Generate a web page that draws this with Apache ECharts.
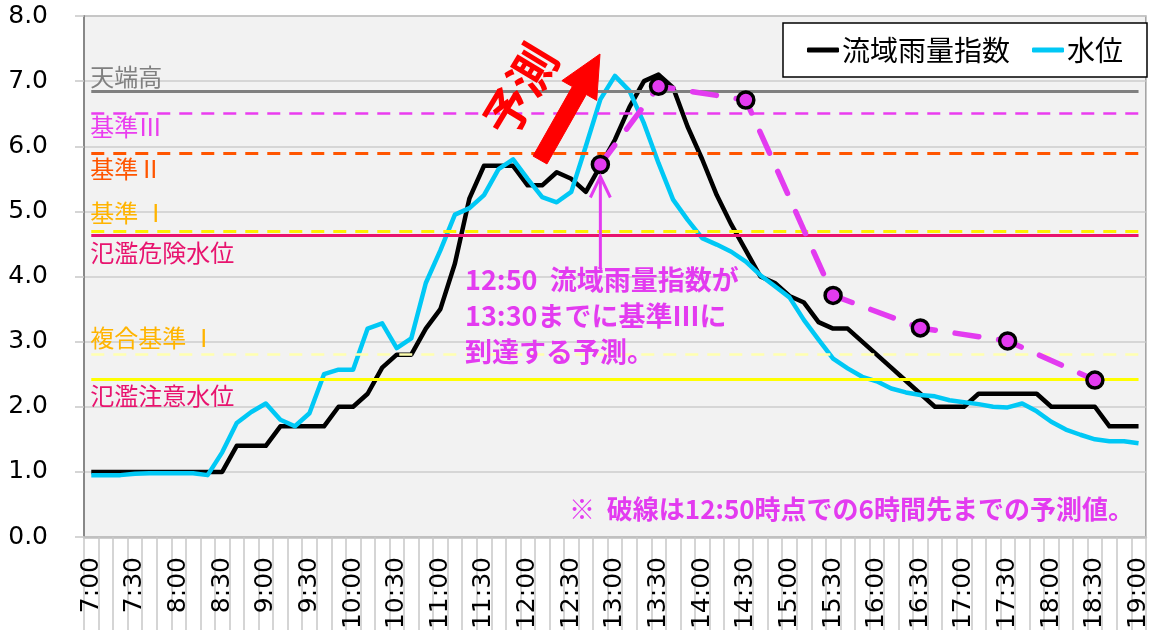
<!DOCTYPE html>
<html><head><meta charset="utf-8">
<script src="https://cdn.jsdelivr.net/npm/echarts@6/dist/echarts.min.js"></script>
<style>html,body{margin:0;padding:0;background:#fff}#c{width:1151px;height:643px}</style>
</head><body><div id="c"></div>
<script>
// ---- data ----
const times = ['7:00','7:10','7:20','7:30','7:40','7:50','8:00','8:10','8:20','8:30','8:40','8:50',
  '9:00','9:10','9:20','9:30','9:40','9:50','10:00','10:10','10:20','10:30','10:40','10:50',
  '11:00','11:10','11:20','11:30','11:40','11:50','12:00','12:10','12:20','12:30','12:40','12:50',
  '13:00','13:10','13:20','13:30','13:40','13:50','14:00','14:10','14:20','14:30','14:40','14:50',
  '15:00','15:10','15:20','15:30','15:40','15:50','16:00','16:10','16:20','16:30','16:40','16:50',
  '17:00','17:10','17:20','17:30','17:40','17:50','18:00','18:10','18:20','18:30','18:40','18:50','19:00'];
const rainIndex = [1.0,1.0,1.0,1.0,1.0,1.0,1.0,1.0,1.0,1.0,
  1.4,1.4,1.4,1.7,1.7,1.7,1.7,2.0,2.0,2.2,
  2.6,2.8,2.8,3.2,3.5,4.2,5.2,5.7,5.7,5.7,
  5.4,5.4,5.6,5.5,5.3,5.7,6.1,6.6,7.0,7.1,
  6.9,6.3,5.8,5.25,4.8,4.4,4.0,3.9,3.7,3.6,
  3.3,3.2,3.2,3.0,2.8,2.6,2.4,2.2,2.0,2.0,
  2.0,2.2,2.2,2.2,2.2,2.2,2.0,2.0,2.0,2.0,
  1.7,1.7,1.7];
const waterLevel = [0.95,0.95,0.95,0.97,0.98,0.98,0.98,0.98,0.95,1.3,
  1.75,1.92,2.05,1.8,1.7,1.9,2.5,2.57,2.57,3.2,
  3.28,2.9,3.05,3.9,4.4,4.95,5.05,5.25,5.65,5.8,
  5.5,5.22,5.14,5.3,6.0,6.72,7.08,6.85,6.35,5.74,
  5.18,4.87,4.59,4.49,4.38,4.23,4.02,3.85,3.68,3.33,
  3.03,2.74,2.59,2.46,2.39,2.28,2.22,2.18,2.16,2.1,
  2.07,2.04,2.0,1.99,2.05,1.93,1.77,1.65,1.57,1.5,
  1.47,1.47,1.44];
const forecastTimes = ['12:50','13:30','14:30','15:30','16:30','17:30','18:30'];
const forecastValues = [5.72,6.92,6.71,3.71,3.21,3.01,2.41];
const refLabels = ['天端高','基準Ⅲ','基準Ⅱ','基準 Ⅰ','氾濫危険水位','複合基準 Ⅰ','氾濫注意水位'];
const refValues = [6.84,6.5,5.9,4.7,4.64,2.8,2.42];
const seriesNames = ['流域雨量指数','水位'];

// ---- styles ----
const CJK = "'Noto Sans CJK JP', sans-serif";
const LAT = "'DejaVu Sans', sans-serif";
const MAG = '#E33BF0';
const refStyles = [
  {color:'#808080', type:'solid', width:3, text:'#808080', dy:-15},
  {color:'#EA3CEF', type:[13,9], width:2.5, text:'#EA3CEF', dy:13},
  {color:'#FF5500', type:[13,9], width:3, text:'#FF5500', dy:16},
  {color:'#FFF000', type:[13,9], width:3, text:'#FFB400', dy:-18},
  {color:'#E8136E', type:'solid', width:3, text:'#E8136E', dy:18},
  {color:'#FFFFB0', type:[13,9], width:2.5, text:'#FFB400', dy:-17},
  {color:'#FFFF00', type:'solid', width:3, text:'#E8136E', dy:16}
];

const chart = echarts.init(document.getElementById('c'), null, {renderer:'canvas'});
const option = {
  animation: false,
  backgroundColor: '#fff',
  grid: {left:84, right:-1, top:16, bottom:106, show:true, backgroundColor:'#f2f2f2', borderColor:'#a0a0a0', borderWidth:1.5, containLabel:false},
  legend: {
    data: seriesNames, right: 4, top: 23, orient: 'horizontal',
    padding: [13, 24, 13, 24], itemGap: 22, itemWidth: 32, itemHeight: 5, icon: 'roundRect',
    backgroundColor: '#fff', borderColor: '#000', borderWidth: 1.5, borderRadius: 0,
    textStyle: {fontSize: 28, color: '#000', fontFamily: CJK, padding: [0,0,0,-2]},
    selectedMode: false
  },
  xAxis: {
    type: 'category', data: times, boundaryGap: true,
    axisLine: {show:true, lineStyle:{color:'#c0c0c0', width:2.5}},
    axisTick: {show:true, interval:0, length:93, inside:false, lineStyle:{color:'#c8c8c8', width:1.5}},
    axisLabel: {interval:2, rotate:90, margin:20, fontSize:25, color:'#000', fontFamily:LAT, hideOverlap:false},
    splitLine: {show:false}
  },
  yAxis: {
    type: 'value', min: 0, max: 8, interval: 1,
    axisLine: {show:true, lineStyle:{color:'#888', width:2}},
    axisTick: {show:true, length:9, inside:false, lineStyle:{color:'#c8c8c8', width:1.5}},
    axisLabel: {margin:36, fontSize:25, color:'#000', fontFamily:LAT, formatter: v => v.toFixed(1)},
    splitLine: {show:true, lineStyle:{color:'#cccccc', width:1.5}}
  },
  series: [
    {
      name: 'ref', type: 'line', data: [], z: 2, silent: true,
      markLine: {
        silent: true, symbol: ['none','none'], animation: false,
        label: {show:false},
        emphasis: {disabled:true},
        data: refValues.map((v,k) => [
          {coord:[times[0], v], lineStyle:{color:refStyles[k].color, type:refStyles[k].type, width:refStyles[k].width}},
          {coord:[times[times.length-1], v]}
        ])
      }
    },
    {
      name: seriesNames[0], type: 'line', data: rainIndex, symbol: 'none', showSymbol: false, z: 3,
      lineStyle: {color:'#000', width:4.5, join:'round'}, itemStyle: {color:'#000'}, silent: true
    },
    {
      name: seriesNames[1], type: 'line', data: waterLevel, symbol: 'none', showSymbol: false, z: 4,
      lineStyle: {color:'#00C8F5', width:4.5, join:'round'}, itemStyle: {color:'#00C8F5'}, silent: true
    },
    {
      name: '予測', type: 'line', z: 5, silent: true,
      data: forecastTimes.map((t,k) => [t, forecastValues[k]]),
      symbol: 'circle', symbolSize: 16, showSymbol: true, showAllSymbol: true,
      itemStyle: {color: MAG, borderColor:'#000', borderWidth:3.5},
      lineStyle: {color: MAG, width:5.5, type:[24,20], cap:'round'}
    }
  ]
};
chart.setOption(option);

// ---- annotations ----
const gfx = [];
const x0 = chart.convertToPixel({xAxisIndex:0}, times[0]) - 1;
refValues.forEach((v,k) => {
  const y = chart.convertToPixel({yAxisIndex:0}, v);
  gfx.push({type:'text', x:x0, y:y + refStyles[k].dy, z:10,
    style:{text:refLabels[k], font:"24px " + CJK, fill:refStyles[k].text, align:'left', verticalAlign:'middle'}});
});
// magenta arrow to 12:50 forecast point
const ax = chart.convertToPixel({xAxisIndex:0}, forecastTimes[0]);
const ay = chart.convertToPixel({yAxisIndex:0}, forecastValues[0]) + 12;
gfx.push({type:'polyline', z:10, shape:{points:[[ax, ay+92],[ax, ay]]}, style:{stroke:MAG, lineWidth:3, fill:null}});
gfx.push({type:'polyline', z:10, shape:{points:[[ax-10, ay+21],[ax, ay],[ax+10, ay+21]]}, style:{stroke:MAG, lineWidth:3, fill:null}});
gfx.push({type:'text', x:465, y:262, z:10,
  style:{text:'12:50  流域雨量指数が\n13:30までに基準Ⅲに\n到達する予測。', font:"bold 27px " + CJK, lineHeight:36, fill:MAG, align:'left', verticalAlign:'top'}});
gfx.push({type:'text', x:569, y:509, z:10,
  style:{text:'※  破線は12:50時点での6時間先までの予測値。', font:"bold 26px " + CJK, fill:MAG, align:'left', verticalAlign:'middle'}});
// red arrow
(function(){
  const tail = [540,160], tip = [600,54];
  const dx = tip[0]-tail[0], dy = tip[1]-tail[1], L = Math.hypot(dx,dy);
  const u = [dx/L, dy/L], n = [-u[1], u[0]];
  const hw = 8, hh = 20, hl = 42;
  const b = [tip[0]-u[0]*hl, tip[1]-u[1]*hl];
  const P = (p, s) => [p[0]+n[0]*s, p[1]+n[1]*s];
  gfx.push({type:'polygon', z:10, shape:{points:[P(tail,hw), P(b,hw), P(b,hh), tip, P(b,-hh), P(b,-hw), P(tail,-hw)]},
    style:{fill:'#FF0000', stroke:'#FF0000', lineWidth:1, lineJoin:'round'}});
})();
gfx.push({type:'text', x:520, y:90, rotation: 59*Math.PI/180, z:10,
  style:{text:'予測', font:"bold 48px " + CJK, fill:'#FF0000', align:'center', verticalAlign:'middle'}});
chart.setOption({graphic: gfx});
</script>
</body></html>
